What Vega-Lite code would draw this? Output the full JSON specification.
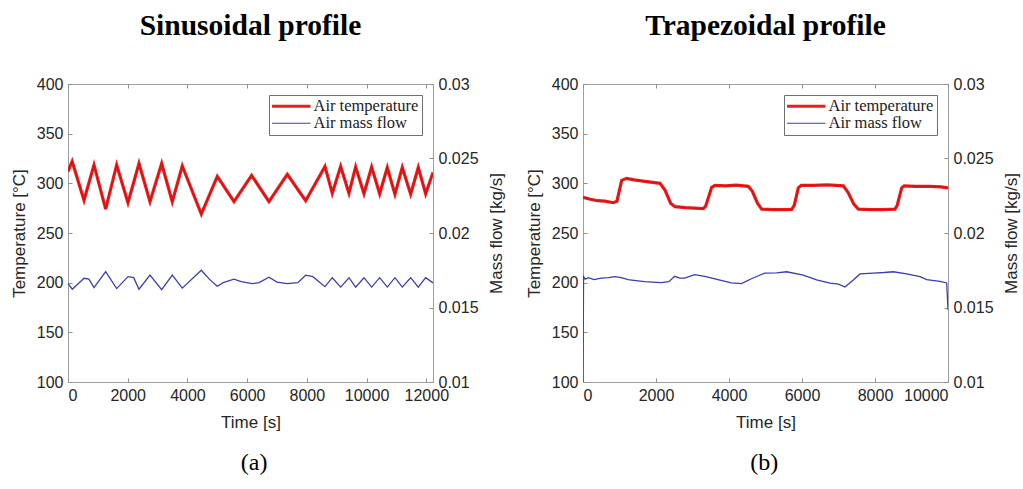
{
  "$schema": "https://vega.github.io/schema/vega-lite/v6.json",
  "background": "white",
  "padding": {"left": 9, "top": 10, "right": 2, "bottom": 5},
  "config": {
    "font": "Liberation Sans",
    "view": {"stroke": "#a0a0a0", "strokeWidth": 1},
    "axis": {
      "labelFont": "Liberation Sans", "labelFontSize": 16, "labelColor": "#262626",
      "titleFont": "Liberation Sans", "titleFontSize": 17, "titleFontWeight": "normal", "titleColor": "#262626",
      "domain": false, "tickColor": "#909090", "tickSize": -4, "grid": false, "labelPadding": 9
    },
    "axisX": {"titlePadding": 11},
    "axisLeft": {"titlePadding": 8},
    "axisRight": {"titlePadding": 10},
    "legend": {
      "orient": "top-right", "offset": 11, "title": null,
      "labelFont": "Liberation Serif", "labelFontSize": 16.5, "labelColor": "#222222",
      "strokeColor": "#707070", "fillColor": "white", "padding": 3,
      "symbolType": "M-2.4,0L2.4,0", "symbolSize": 256, "symbolOffset": 11, "labelOffset": 14,
      "rowPadding": 0, "symbolStrokeWidth": 1.5
    },
    "title": {"font": "Liberation Serif", "fontSize": 29.5, "fontWeight": "bold", "color": "black", "anchor": "middle", "frame": "group", "offset": 35}
  },
  "datasets": {
    "sinT": [
      {"t": 0, "v": 312, "series": "Air temperature"},
      {"t": 140, "v": 322, "series": "Air temperature"},
      {"t": 536, "v": 283, "series": "Air temperature"},
      {"t": 871, "v": 318.5, "series": "Air temperature"},
      {"t": 1262, "v": 274, "series": "Air temperature"},
      {"t": 1630, "v": 318.5, "series": "Air temperature"},
      {"t": 2009, "v": 280.5, "series": "Air temperature"},
      {"t": 2378, "v": 320, "series": "Air temperature"},
      {"t": 2746, "v": 281.5, "series": "Air temperature"},
      {"t": 3137, "v": 320, "series": "Air temperature"},
      {"t": 3493, "v": 281.5, "series": "Air temperature"},
      {"t": 3828, "v": 317.5, "series": "Air temperature"},
      {"t": 4465, "v": 269, "series": "Air temperature"},
      {"t": 5001, "v": 307, "series": "Air temperature"},
      {"t": 5560, "v": 281.5, "series": "Air temperature"},
      {"t": 6150, "v": 308, "series": "Air temperature"},
      {"t": 6731, "v": 281.5, "series": "Air temperature"},
      {"t": 7345, "v": 309, "series": "Air temperature"},
      {"t": 7960, "v": 282.5, "series": "Air temperature"},
      {"t": 8607, "v": 317, "series": "Air temperature"},
      {"t": 8851, "v": 290, "series": "Air temperature"},
      {"t": 9132, "v": 317, "series": "Air temperature"},
      {"t": 9411, "v": 290, "series": "Air temperature"},
      {"t": 9634, "v": 316.5, "series": "Air temperature"},
      {"t": 9913, "v": 289.5, "series": "Air temperature"},
      {"t": 10170, "v": 316.5, "series": "Air temperature"},
      {"t": 10439, "v": 289.5, "series": "Air temperature"},
      {"t": 10694, "v": 316, "series": "Air temperature"},
      {"t": 10951, "v": 289, "series": "Air temperature"},
      {"t": 11196, "v": 316, "series": "Air temperature"},
      {"t": 11477, "v": 289, "series": "Air temperature"},
      {"t": 11732, "v": 316, "series": "Air temperature"},
      {"t": 11979, "v": 289.5, "series": "Air temperature"},
      {"t": 12225, "v": 311, "series": "Air temperature"}
    ],
    "sinM": [
      {"t": 0, "v": 0.0166, "series": "Air mass flow"},
      {"t": 145, "v": 0.01623, "series": "Air mass flow"},
      {"t": 536, "v": 0.01696, "series": "Air mass flow"},
      {"t": 700, "v": 0.0169, "series": "Air mass flow"},
      {"t": 871, "v": 0.01633, "series": "Air mass flow"},
      {"t": 1262, "v": 0.0174, "series": "Air mass flow"},
      {"t": 1630, "v": 0.01627, "series": "Air mass flow"},
      {"t": 2009, "v": 0.01707, "series": "Air mass flow"},
      {"t": 2200, "v": 0.017, "series": "Air mass flow"},
      {"t": 2378, "v": 0.01623, "series": "Air mass flow"},
      {"t": 2746, "v": 0.01717, "series": "Air mass flow"},
      {"t": 3137, "v": 0.0162, "series": "Air mass flow"},
      {"t": 3493, "v": 0.01717, "series": "Air mass flow"},
      {"t": 3828, "v": 0.0163, "series": "Air mass flow"},
      {"t": 4465, "v": 0.0175, "series": "Air mass flow"},
      {"t": 4750, "v": 0.01687, "series": "Air mass flow"},
      {"t": 5001, "v": 0.01643, "series": "Air mass flow"},
      {"t": 5200, "v": 0.01667, "series": "Air mass flow"},
      {"t": 5560, "v": 0.0169, "series": "Air mass flow"},
      {"t": 5800, "v": 0.01673, "series": "Air mass flow"},
      {"t": 6173, "v": 0.0166, "series": "Air mass flow"},
      {"t": 6400, "v": 0.01667, "series": "Air mass flow"},
      {"t": 6731, "v": 0.01703, "series": "Air mass flow"},
      {"t": 7000, "v": 0.0167, "series": "Air mass flow"},
      {"t": 7345, "v": 0.0166, "series": "Air mass flow"},
      {"t": 7700, "v": 0.01667, "series": "Air mass flow"},
      {"t": 7960, "v": 0.01717, "series": "Air mass flow"},
      {"t": 8200, "v": 0.01707, "series": "Air mass flow"},
      {"t": 8607, "v": 0.0164, "series": "Air mass flow"},
      {"t": 8851, "v": 0.017, "series": "Air mass flow"},
      {"t": 9132, "v": 0.01637, "series": "Air mass flow"},
      {"t": 9411, "v": 0.017, "series": "Air mass flow"},
      {"t": 9634, "v": 0.01637, "series": "Air mass flow"},
      {"t": 9913, "v": 0.017, "series": "Air mass flow"},
      {"t": 10170, "v": 0.01637, "series": "Air mass flow"},
      {"t": 10439, "v": 0.017, "series": "Air mass flow"},
      {"t": 10694, "v": 0.01637, "series": "Air mass flow"},
      {"t": 10951, "v": 0.017, "series": "Air mass flow"},
      {"t": 11196, "v": 0.01637, "series": "Air mass flow"},
      {"t": 11477, "v": 0.017, "series": "Air mass flow"},
      {"t": 11732, "v": 0.01637, "series": "Air mass flow"},
      {"t": 11979, "v": 0.017, "series": "Air mass flow"},
      {"t": 12225, "v": 0.01665, "series": "Air mass flow"}
    ],
    "trapT": [
      {"t": 0, "v": 286, "series": "Air temperature"},
      {"t": 200, "v": 284, "series": "Air temperature"},
      {"t": 400, "v": 282.5, "series": "Air temperature"},
      {"t": 600, "v": 282, "series": "Air temperature"},
      {"t": 830, "v": 280.5, "series": "Air temperature"},
      {"t": 930, "v": 282, "series": "Air temperature"},
      {"t": 1060, "v": 303, "series": "Air temperature"},
      {"t": 1197, "v": 305, "series": "Air temperature"},
      {"t": 1400, "v": 303.5, "series": "Air temperature"},
      {"t": 1644, "v": 302.3, "series": "Air temperature"},
      {"t": 1900, "v": 301, "series": "Air temperature"},
      {"t": 2110, "v": 300, "series": "Air temperature"},
      {"t": 2250, "v": 293, "series": "Air temperature"},
      {"t": 2400, "v": 280, "series": "Air temperature"},
      {"t": 2520, "v": 276.5, "series": "Air temperature"},
      {"t": 2800, "v": 275.5, "series": "Air temperature"},
      {"t": 3050, "v": 275, "series": "Air temperature"},
      {"t": 3300, "v": 274.5, "series": "Air temperature"},
      {"t": 3360, "v": 277, "series": "Air temperature"},
      {"t": 3526, "v": 296, "series": "Air temperature"},
      {"t": 3616, "v": 298, "series": "Air temperature"},
      {"t": 3900, "v": 297.5, "series": "Air temperature"},
      {"t": 4200, "v": 298.2, "series": "Air temperature"},
      {"t": 4529, "v": 297, "series": "Air temperature"},
      {"t": 4640, "v": 292, "series": "Air temperature"},
      {"t": 4780, "v": 280, "series": "Air temperature"},
      {"t": 4896, "v": 274, "series": "Air temperature"},
      {"t": 5200, "v": 273.5, "series": "Air temperature"},
      {"t": 5500, "v": 273.5, "series": "Air temperature"},
      {"t": 5718, "v": 273.8, "series": "Air temperature"},
      {"t": 5790, "v": 278, "series": "Air temperature"},
      {"t": 5899, "v": 295.5, "series": "Air temperature"},
      {"t": 5980, "v": 298, "series": "Air temperature"},
      {"t": 6300, "v": 298, "series": "Air temperature"},
      {"t": 6700, "v": 298.5, "series": "Air temperature"},
      {"t": 7132, "v": 297.5, "series": "Air temperature"},
      {"t": 7260, "v": 291, "series": "Air temperature"},
      {"t": 7420, "v": 279, "series": "Air temperature"},
      {"t": 7543, "v": 274, "series": "Air temperature"},
      {"t": 7900, "v": 273.5, "series": "Air temperature"},
      {"t": 8200, "v": 273.5, "series": "Air temperature"},
      {"t": 8548, "v": 274, "series": "Air temperature"},
      {"t": 8610, "v": 278, "series": "Air temperature"},
      {"t": 8731, "v": 295.5, "series": "Air temperature"},
      {"t": 8800, "v": 297.5, "series": "Air temperature"},
      {"t": 9100, "v": 297, "series": "Air temperature"},
      {"t": 9500, "v": 297, "series": "Air temperature"},
      {"t": 9800, "v": 296.5, "series": "Air temperature"},
      {"t": 10000, "v": 295.5, "series": "Air temperature"}
    ],
    "trapM": [
      {"t": 0, "v": 0.01, "series": "Air mass flow"},
      {"t": 15, "v": 0.01707, "series": "Air mass flow"},
      {"t": 60, "v": 0.0169, "series": "Air mass flow"},
      {"t": 150, "v": 0.017, "series": "Air mass flow"},
      {"t": 300, "v": 0.01687, "series": "Air mass flow"},
      {"t": 500, "v": 0.01697, "series": "Air mass flow"},
      {"t": 700, "v": 0.017, "series": "Air mass flow"},
      {"t": 868, "v": 0.01707, "series": "Air mass flow"},
      {"t": 1050, "v": 0.017, "series": "Air mass flow"},
      {"t": 1233, "v": 0.01687, "series": "Air mass flow"},
      {"t": 1450, "v": 0.0168, "series": "Air mass flow"},
      {"t": 1690, "v": 0.01673, "series": "Air mass flow"},
      {"t": 1900, "v": 0.0167, "series": "Air mass flow"},
      {"t": 2146, "v": 0.01667, "series": "Air mass flow"},
      {"t": 2350, "v": 0.01673, "series": "Air mass flow"},
      {"t": 2512, "v": 0.01709, "series": "Air mass flow"},
      {"t": 2650, "v": 0.01697, "series": "Air mass flow"},
      {"t": 2786, "v": 0.01697, "series": "Air mass flow"},
      {"t": 3060, "v": 0.0172, "series": "Air mass flow"},
      {"t": 3334, "v": 0.01709, "series": "Air mass flow"},
      {"t": 3699, "v": 0.01687, "series": "Air mass flow"},
      {"t": 4064, "v": 0.01665, "series": "Air mass flow"},
      {"t": 4338, "v": 0.0166, "series": "Air mass flow"},
      {"t": 4612, "v": 0.01693, "series": "Air mass flow"},
      {"t": 4977, "v": 0.01731, "series": "Air mass flow"},
      {"t": 5300, "v": 0.01733, "series": "Air mass flow"},
      {"t": 5581, "v": 0.0174, "series": "Air mass flow"},
      {"t": 6036, "v": 0.01718, "series": "Air mass flow"},
      {"t": 6402, "v": 0.01685, "series": "Air mass flow"},
      {"t": 6767, "v": 0.01663, "series": "Air mass flow"},
      {"t": 7000, "v": 0.01657, "series": "Air mass flow"},
      {"t": 7178, "v": 0.01637, "series": "Air mass flow"},
      {"t": 7406, "v": 0.01685, "series": "Air mass flow"},
      {"t": 7589, "v": 0.01725, "series": "Air mass flow"},
      {"t": 7953, "v": 0.01731, "series": "Air mass flow"},
      {"t": 8250, "v": 0.01735, "series": "Air mass flow"},
      {"t": 8501, "v": 0.0174, "series": "Air mass flow"},
      {"t": 8868, "v": 0.01725, "series": "Air mass flow"},
      {"t": 9233, "v": 0.01707, "series": "Air mass flow"},
      {"t": 9416, "v": 0.01687, "series": "Air mass flow"},
      {"t": 9781, "v": 0.01675, "series": "Air mass flow"},
      {"t": 9964, "v": 0.01665, "series": "Air mass flow"},
      {"t": 10000, "v": 0.01483, "series": "Air mass flow"}
    ]
  },
  "hconcat": [
    {
      "title": {"text": "(a)", "orient": "bottom", "fontWeight": "normal", "fontSize": 24, "offset": 20, "frame": "bounds", "dx": -3},
      "vconcat": [
        {
          "width": 365, "height": 298,
          "title": {"text": "Sinusoidal profile"},
          "layer": [
            {
              "layer": [
                {
                  "data": {"name": "sinT"},
                  "mark": {"type": "line", "strokeWidth": 3.2, "clip": true},
                  "encoding": {
                    "x": {"field": "t", "type": "quantitative", "scale": {"domain": [0, 12225], "nice": false, "zero": false},
                          "axis": {"values": [0, 2000, 4000, 6000, 8000, 10000, 12000], "format": "d", "title": "Time [s]"}},
                    "y": {"field": "v", "type": "quantitative", "scale": {"domain": [100, 400], "nice": false, "zero": false},
                          "axis": {"values": [100, 150, 200, 250, 300, 350, 400], "title": "Temperature [°C]"}},
                    "color": {"field": "series", "type": "nominal",
                              "scale": {"domain": ["Air temperature", "Air mass flow"], "range": ["#f21b1b", "#3c3cb4"]},
                              "legend": {"encode": {"symbols": {"update": {"strokeWidth": {"signal": "datum.value == 'Air temperature' ? 3 : 1.2"}}}}}}
                  }
                },
                {
                  "data": {"name": "sinT"},
                  "mark": {"type": "line", "strokeWidth": 0.6, "color": "#8a1010", "opacity": 0.8, "clip": true},
                  "encoding": {
                    "x": {"field": "t", "type": "quantitative"},
                    "y": {"field": "v", "type": "quantitative"}
                  }
                }
              ]
            },
            {
              "data": {"name": "sinM"},
              "mark": {"type": "line", "strokeWidth": 1.3, "clip": true},
              "encoding": {
                "x": {"field": "t", "type": "quantitative",
                      "axis": {"orient": "top", "labels": false, "title": null, "values": [0, 2000, 4000, 6000, 8000, 10000, 12000]}},
                "y": {"field": "v", "type": "quantitative", "scale": {"domain": [0.01, 0.03], "nice": false, "zero": false},
                      "axis": {"orient": "right", "values": [0.01, 0.015, 0.02, 0.025, 0.03], "format": "~g", "title": "Mass flow [kg/s]", "titleAngle": 270, "titleBaseline": "top"}},
                "color": {"field": "series", "type": "nominal"}
              }
            }
          ],
          "resolve": {"scale": {"y": "independent"}, "axis": {"x": "independent"}}
        }
      ],
      "resolve": {"scale": {"color": "independent"}, "legend": {"color": "independent"}}
    },
    {
      "title": {"text": "(b)", "orient": "bottom", "fontWeight": "normal", "fontSize": 24, "offset": 20, "frame": "bounds", "dx": -8},
      "vconcat": [
        {
          "width": 365, "height": 298,
          "title": {"text": "Trapezoidal profile"},
          "layer": [
            {
              "layer": [
                {
                  "data": {"name": "trapT"},
                  "mark": {"type": "line", "strokeWidth": 3.2, "clip": true},
                  "encoding": {
                    "x": {"field": "t", "type": "quantitative", "scale": {"domain": [0, 10000], "nice": false, "zero": false},
                          "axis": {"values": [0, 2000, 4000, 6000, 8000, 10000], "format": "d", "title": "Time [s]"}},
                    "y": {"field": "v", "type": "quantitative", "scale": {"domain": [100, 400], "nice": false, "zero": false},
                          "axis": {"values": [100, 150, 200, 250, 300, 350, 400], "title": "Temperature [°C]"}},
                    "color": {"field": "series", "type": "nominal",
                              "scale": {"domain": ["Air temperature", "Air mass flow"], "range": ["#f21b1b", "#3c3cb4"]},
                              "legend": {"encode": {"symbols": {"update": {"strokeWidth": {"signal": "datum.value == 'Air temperature' ? 3 : 1.2"}}}}}}
                  }
                },
                {
                  "data": {"name": "trapT"},
                  "mark": {"type": "line", "strokeWidth": 0.6, "color": "#8a1010", "opacity": 0.8, "clip": true},
                  "encoding": {
                    "x": {"field": "t", "type": "quantitative"},
                    "y": {"field": "v", "type": "quantitative"}
                  }
                }
              ]
            },
            {
              "data": {"name": "trapM"},
              "mark": {"type": "line", "strokeWidth": 1.3, "clip": true},
              "encoding": {
                "x": {"field": "t", "type": "quantitative",
                      "axis": {"orient": "top", "labels": false, "title": null, "values": [0, 2000, 4000, 6000, 8000, 10000]}},
                "y": {"field": "v", "type": "quantitative", "scale": {"domain": [0.01, 0.03], "nice": false, "zero": false},
                      "axis": {"orient": "right", "values": [0.01, 0.015, 0.02, 0.025, 0.03], "format": "~g", "title": "Mass flow [kg/s]", "titleAngle": 270, "titleBaseline": "top"}},
                "color": {"field": "series", "type": "nominal"}
              }
            }
          ],
          "resolve": {"scale": {"y": "independent"}, "axis": {"x": "independent"}}
        }
      ],
      "resolve": {"scale": {"color": "independent"}, "legend": {"color": "independent"}}
    }
  ],
  "spacing": 19,
  "resolve": {"scale": {"color": "independent"}, "legend": {"color": "independent"}}
}
